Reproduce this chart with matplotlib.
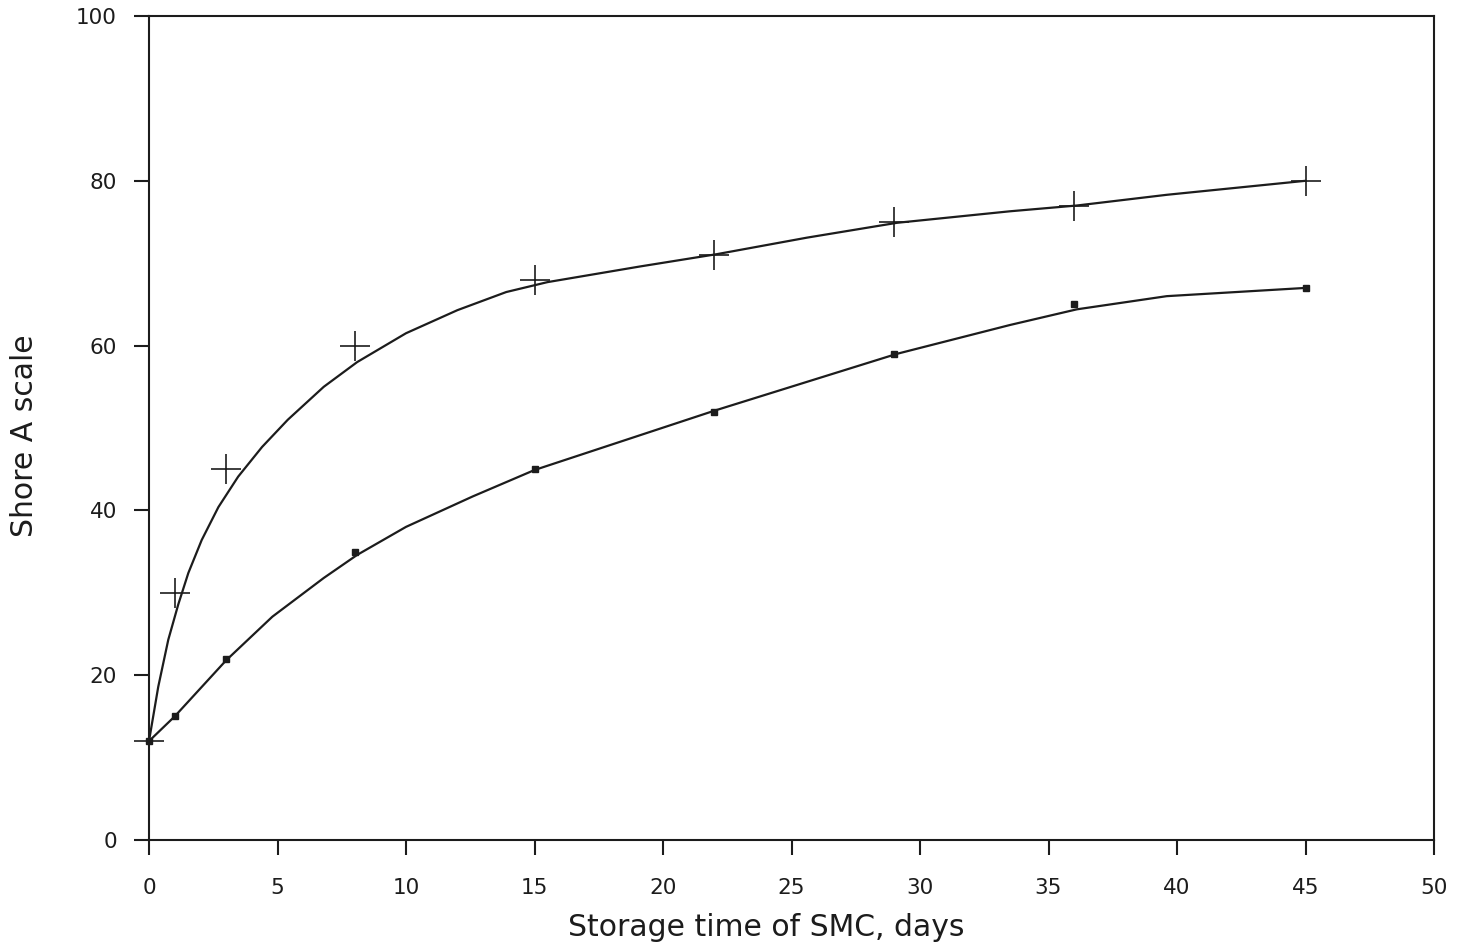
import matplotlib
matplotlib.use("Agg")
import matplotlib.pyplot as plt

# Measured data points
days = [0, 1, 3, 8, 15, 22, 29, 36, 45]
shore_plus = [12, 30, 45, 60, 68, 71, 75, 77, 80]
shore_square = [12, 15, 22, 35, 45, 52, 59, 65, 67]

# Fitted curves
upper_curve_x = [0, 0.36, 0.75, 1.14, 1.53, 2.05, 2.7, 3.47, 4.4, 5.4, 6.8, 8.1,
                 10, 12, 13.9, 15.5, 19.1, 22.1, 25.6, 29.1, 33.5, 36.1, 39.6, 45]
upper_curve_y = [12, 18.6, 24.3, 28.6, 32.4, 36.4, 40.4, 44.1, 47.7, 51.0, 55.0,
                 58.0, 61.5, 64.3, 66.5, 67.7, 69.6, 71.1, 73.1, 74.9, 76.3, 77.0,
                 78.3, 80.0]
lower_curve_x = [0, 1.0, 3.0, 4.8, 6.8, 8.1, 10, 12.6, 15.0, 18.5, 22.0,
                 25.6, 29.1, 33.5, 36.1, 39.6, 45]
lower_curve_y = [12, 15.0, 21.8, 27.1, 31.8, 34.6, 38.0, 41.7, 44.9, 48.5,
                 52.1, 55.6, 59.0, 62.5, 64.4, 66.0, 67.0]

x_ticks = [0, 5, 10, 15, 20, 25, 30, 35, 40, 45, 50]
y_ticks = [0, 20, 40, 60, 80, 100]

ink = "#1c1c1c"

fig = plt.figure(figsize=(14.68, 9.52), dpi=100)
ax = fig.add_axes([149 / 1468, 1 - 840 / 952, (1434 - 149) / 1468, (840 - 16) / 952])

ax.plot(upper_curve_x, upper_curve_y, color=ink, lw=1.6,
        solid_capstyle="round", solid_joinstyle="round")
ax.plot(lower_curve_x, lower_curve_y, color=ink, lw=1.6,
        solid_capstyle="round", solid_joinstyle="round")
ax.plot(days, shore_plus, linestyle="none", marker="+", markersize=22,
        markeredgewidth=1.2, color=ink, clip_on=False)
ax.plot(days, shore_square, linestyle="none", marker="s", markersize=4.5,
        color=ink, clip_on=False)

ax.set_xlim(0, 50)
ax.set_ylim(0, 100)
ax.set_xticks(x_ticks)
ax.set_yticks(y_ticks)
ax.set_xticklabels([str(v) for v in x_ticks])
ax.set_yticklabels([str(v) for v in y_ticks])

for sp in ax.spines.values():
    sp.set_color(ink)
    sp.set_linewidth(1.5)

ax.tick_params(axis="x", direction="out", length=11, width=1.5, color=ink,
               pad=16, labelsize=15.5, labelcolor=ink)
ax.tick_params(axis="y", direction="out", length=11, width=1.5, color=ink,
               pad=12, labelsize=15.5, labelcolor=ink)

ax.set_xlabel("Storage time of SMC, days", fontsize=21.5, color=ink,
              va="center", ha="center")
ax.xaxis.set_label_coords(0.48, -0.1056)
ax.set_ylabel("Shore A scale", fontsize=21.5, color=ink,
              va="center", ha="center", rotation_mode="default")
ax.yaxis.set_label_coords(-0.0965, 0.491)

fig.savefig("out.png", dpi=100, facecolor="white")
